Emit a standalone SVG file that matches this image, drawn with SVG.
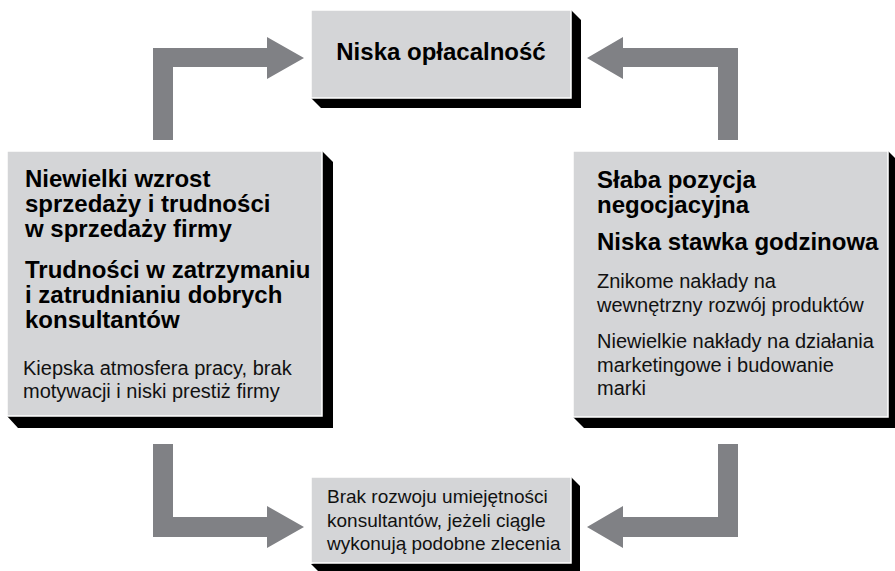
<svg xmlns="http://www.w3.org/2000/svg" width="895" height="571" viewBox="0 0 895 571">
<defs>
<style>
.box{fill:#d4d5d7;stroke:#ffffff;stroke-width:1.5}
.shadow{fill:#000000}
.arrow{fill:#808185}
.b{font-family:"Liberation Sans",Arial,Helvetica,sans-serif;font-weight:bold;font-size:24px;fill:#000}
.r{font-family:"Liberation Sans",Arial,Helvetica,sans-serif;font-size:20px;fill:#111}
.s{font-family:"Liberation Sans",Arial,Helvetica,sans-serif;font-size:19px;fill:#111}
</style>
</defs>
<rect width="895" height="571" fill="#ffffff"/>
<g id="connectors">
<path class="arrow" d="M153,140 V48 H267 V37 L304,58 L267,79 V67 H173 V140 Z"/>
<path class="arrow" d="M738,140 V48 H623 V37 L587,58 L623,79 V67 H718 V140 Z"/>
<path class="arrow" d="M153,444 H173 V517 H267 V506 L304,527 L267,548 V537 H153 Z"/>
<path class="arrow" d="M738,444 H718 V517 H623 V506 L587,527 L623,548 V537 H738 Z"/>
</g>
<g id="node-top">
<polygon class="shadow" points="571,10 581,20 581,108 321,108 311,98"/>
<rect class="box" x="311" y="10" width="260" height="88"/>
<text class="b" x="441" y="60" text-anchor="middle">Niska opłacalność</text>
</g>
<g id="node-left">
<polygon class="shadow" points="322,151 333,162 333,428 18,428 7,416"/>
<rect class="box" x="7" y="151" width="315" height="265"/>
<text class="b" x="25" y="187">Niewielki wzrost</text>
<text class="b" x="25" y="212">sprzedaży i trudności</text>
<text class="b" x="25" y="237">w sprzedaży firmy</text>
<text class="b" x="25" y="278">Trudności w zatrzymaniu</text>
<text class="b" x="25" y="303">i zatrudnianiu dobrych</text>
<text class="b" x="25" y="328">konsultantów</text>
<text class="r" x="23" y="375">Kiepska atmosfera pracy, brak</text>
<text class="r" x="23" y="398">motywacji i niski prestiż firmy</text>
</g>
<g id="node-right">
<polygon class="shadow" points="888,151 899,162 899,428 584,428 573,417"/>
<rect class="box" x="573" y="151" width="315" height="266"/>
<text class="b" x="597" y="188">Słaba pozycja</text>
<text class="b" x="597" y="213">negocjacyjna</text>
<text class="b" x="597" y="250">Niska stawka godzinowa</text>
<text class="r" x="597" y="288">Znikome nakłady na</text>
<text class="r" x="597" y="312">wewnętrzny rozwój produktów</text>
<text class="r" x="597" y="348">Niewielkie nakłady na działania</text>
<text class="r" x="597" y="372">marketingowe i budowanie</text>
<text class="r" x="597" y="395">marki</text>
</g>
<g id="node-bottom">
<polygon class="shadow" points="571,477 580,486 580,573 320,573 311,564"/>
<rect class="box" x="311" y="477" width="260" height="86"/>
<text class="s" x="327" y="503">Brak rozwoju umiejętności</text>
<text class="s" x="327" y="527">konsultantów, jeżeli ciągle</text>
<text class="s" x="327" y="550">wykonują podobne zlecenia</text>
</g>
</svg>
